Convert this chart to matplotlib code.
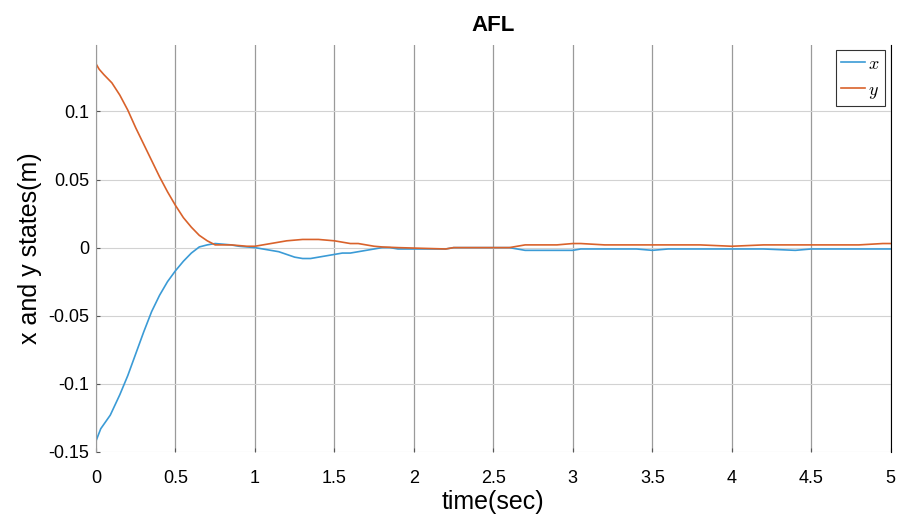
import numpy as np
from matplotlib import pyplot as plt

# time samples (sec) and state values (m)
t_x = [0, 0.03, 0.09, 0.15, 0.2, 0.25, 0.3, 0.35, 0.4, 0.45, 0.5, 0.55, 0.6, 0.65, 0.7, 0.75, 0.8, 0.85,
       0.9, 0.95, 1.0, 1.05, 1.1, 1.15, 1.2, 1.25, 1.3, 1.35, 1.4, 1.45, 1.5, 1.55, 1.6, 1.65, 1.7, 1.75,
       1.8, 1.85, 1.9, 2.2, 2.25, 2.6, 2.7, 2.9, 3.0, 3.05, 3.4, 3.5, 3.6, 3.8, 4.0, 4.2, 4.4, 4.5, 4.6,
       4.8, 4.9, 5.0]
x_val = [-0.142, -0.133, -0.123, -0.108, -0.094, -0.078, -0.062, -0.047, -0.035, -0.025, -0.017, -0.010,
         -0.004, 0.0005, 0.002, 0.003, 0.0025, 0.002, 0.001, 0.0005, 0.0, -0.001, -0.002, -0.003, -0.005,
         -0.007, -0.008, -0.008, -0.007, -0.006, -0.005, -0.004, -0.004, -0.003, -0.002, -0.001, 0.0,
         0.0, -0.001, -0.001, 0.0, 0.0, -0.002, -0.002, -0.002, -0.001, -0.001, -0.002, -0.001, -0.001,
         -0.001, -0.001, -0.002, -0.001, -0.001, -0.001, -0.001, -0.001]

t_y = [0, 0.02, 0.05, 0.1, 0.15, 0.2, 0.25, 0.3, 0.35, 0.4, 0.45, 0.5, 0.55, 0.6, 0.65, 0.7, 0.75, 0.8,
       0.85, 0.9, 0.95, 1.0, 1.05, 1.1, 1.15, 1.2, 1.3, 1.4, 1.5, 1.55, 1.6, 1.65, 1.7, 1.75, 1.8, 1.9,
       2.2, 2.25, 2.6, 2.7, 2.9, 3.0, 3.05, 3.2, 3.5, 3.6, 3.8, 4.0, 4.2, 4.4, 4.6, 4.8, 4.95, 5.0]
y_val = [0.135, 0.131, 0.127, 0.121, 0.112, 0.101, 0.088, 0.076, 0.064, 0.052, 0.041, 0.031, 0.022,
         0.015, 0.009, 0.005, 0.002, 0.002, 0.002, 0.0015, 0.001, 0.001, 0.002, 0.003, 0.004, 0.005,
         0.006, 0.006, 0.005, 0.004, 0.003, 0.003, 0.002, 0.001, 0.0005, 0.0, -0.001, 0.0, 0.0, 0.002,
         0.002, 0.003, 0.003, 0.002, 0.002, 0.002, 0.002, 0.001, 0.002, 0.002, 0.002, 0.002, 0.003, 0.003]

x_ticks = [0, 0.5, 1, 1.5, 2, 2.5, 3, 3.5, 4, 4.5, 5]
y_ticks = [-0.15, -0.1, -0.05, 0, 0.05, 0.1]

plt.rcParams['font.family'] = ['Liberation Sans', 'DejaVu Sans']
plt.rcParams['mathtext.fontset'] = 'cm'

fig = plt.figure(figsize=(8.97, 5.2), dpi=100)
ax = fig.add_axes([0.107, 0.131, 0.886, 0.783])

ax.plot(t_x, x_val, color='#3b9bd6', lw=1.2, label='$x$')
ax.plot(t_y, y_val, color='#d9622b', lw=1.2, label='$y$')

ax.set_xlim(0, 5)
ax.set_ylim(-0.15, 0.149)
ax.set_xticks(x_ticks)
ax.set_xticklabels([f'{v:g}' for v in x_ticks])
ax.set_yticks(y_ticks)
ax.set_yticklabels([f'{v:g}' for v in y_ticks])
ax.tick_params(labelsize=13, length=3, direction='in', color='#555555', pad=5)
ax.tick_params(axis='x', pad=13)

# vertical grid darker than horizontal
ax.xaxis.grid(True, color='#9a9a9a', lw=0.9)
ax.yaxis.grid(True, color='#d2d2d2', lw=0.8)
ax.set_axisbelow(True)

for side in ['top', 'bottom']:
    ax.spines[side].set_visible(False)
ax.spines['left'].set_color('#9a9a9a')
ax.spines['right'].set_color('black')

ax.set_title('AFL', fontsize=16, fontweight='bold', pad=10)
ax.set_xlabel('time(sec)', fontsize=18, labelpad=2)
ax.set_ylabel('x and y states(m)', fontsize=18, labelpad=4)

leg = ax.legend(loc='upper right', fontsize=13, frameon=True, fancybox=False,
                edgecolor='black', handlelength=1.3, handletextpad=0.2,
                borderpad=0.3, borderaxespad=0.3, labelspacing=0.5)
leg.get_frame().set_linewidth(0.8)

fig.savefig('out.png', dpi=100)
